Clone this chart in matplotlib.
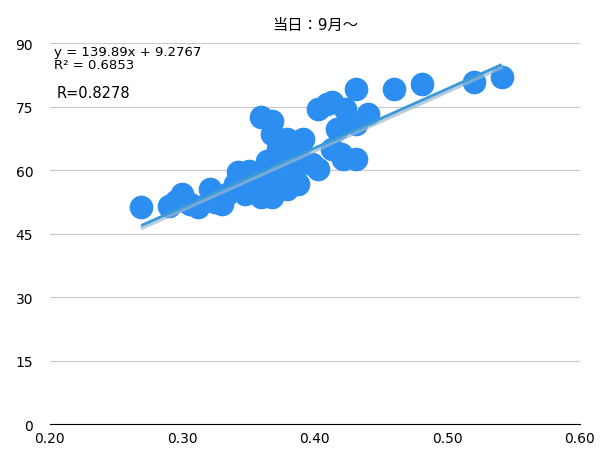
import matplotlib
matplotlib.use("Agg")
import matplotlib.pyplot as plt
import numpy as np

plt.rcParams['font.family'] = ['DejaVu Sans', 'Noto Sans CJK JP']

x = [0.269,0.29,0.295,0.30,0.306,0.312,0.321,0.325,0.33,0.334,0.34,0.342,0.347,0.35,0.356,0.361,
     0.359,0.368,0.368,0.364,0.359,0.368,0.372,0.375,0.379,0.379,0.387,0.385,0.391,0.387,0.398,0.402,
     0.402,0.409,0.413,0.417,0.413,0.42,0.423,0.421,0.431,0.431,0.431,0.44,0.46,0.481,0.52,0.541,0.372,0.383]
y = [51.3,51.5,52.7,54.3,52.0,51.3,55.5,52.4,52.0,54.3,56.7,59.5,54.3,59.8,56.7,57.9,
     72.5,71.6,68.5,62.1,53.6,53.6,56.7,60.7,67.3,55.5,65.0,57.9,67.3,56.7,61.4,60.2,
     74.4,75.6,76.0,69.7,65.0,63.8,74.4,62.6,62.6,79.1,70.9,73.2,79.1,80.3,80.8,82.0,65.0,62.0]
xticks = [0.20,0.30,0.40,0.50,0.60]
yticks = [0,15,30,45,60,75,90]

fig = plt.figure(figsize=(6.15,4.6), dpi=100)
ax = fig.add_axes([0.081, 0.076, 0.862, 0.828])
ax.scatter(x, y, s=290, color='#2b8ef0', zorder=3, linewidths=0)
xl = np.array([0.27, 0.54])
ax.plot(xl, 139.89*xl+9.2767-0.6, color='#9ab8d0', lw=3, zorder=4, alpha=0.7)
ax.plot(xl, 139.89*xl+9.2767, color='#3a9ad8', lw=2, zorder=5)
ax.set_xlim(0.2,0.6); ax.set_ylim(0,90)
ax.set_xticks(xticks); ax.set_xticklabels([f"{v:.2f}" for v in xticks], fontsize=10)
ax.set_yticks(yticks); ax.set_yticklabels([str(v) for v in yticks], fontsize=10)
ax.grid(axis='y', color='#c8c8c8', lw=0.8)
ax.set_axisbelow(True)
for s in ['top','right','left']:
    ax.spines[s].set_visible(False)
ax.spines['bottom'].set_color('black')
ax.tick_params(axis='x', length=0, pad=5)
ax.tick_params(axis='y', length=0, pad=12)
ax.set_title("当日：9月〜", fontsize=11, pad=10)
ax.text(0.203, 89.5, "y = 139.89x + 9.2767\nR² = 0.6853", fontsize=9.5, va='top', linespacing=1.0)
ax.text(0.205, 80, "R=0.8278", fontsize=10.5, va='top')
fig.savefig("out.png")
